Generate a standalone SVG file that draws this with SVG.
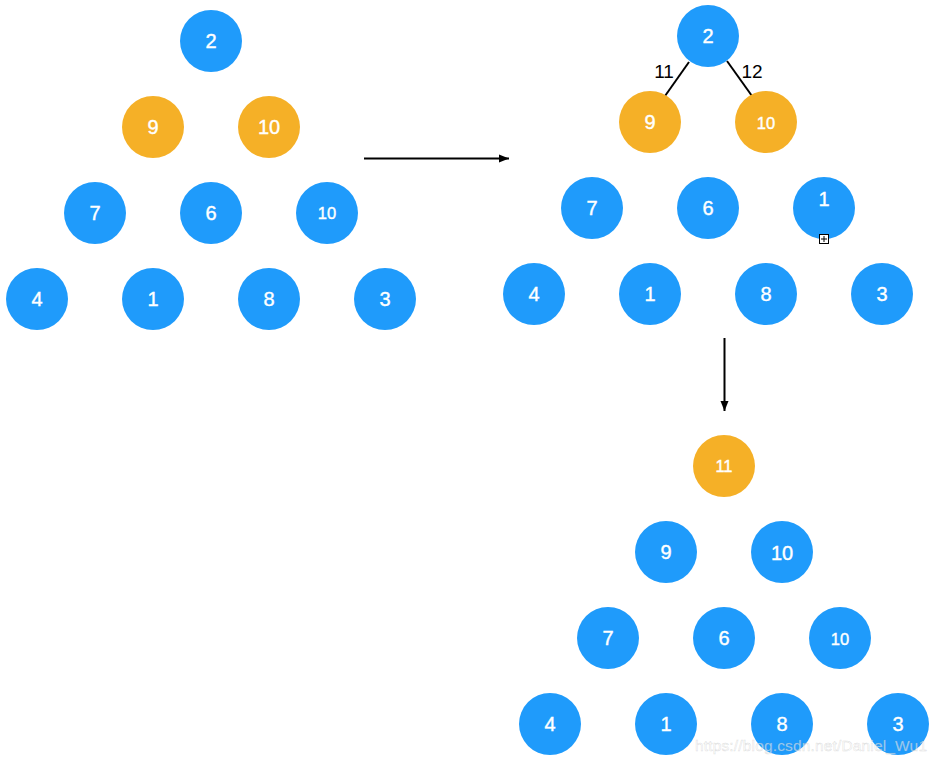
<svg xmlns="http://www.w3.org/2000/svg" width="935" height="763" viewBox="0 0 935 763">
<style>
.b{fill:#1f9bfb}
.o{fill:#f5b027}
.t{font-family:"Liberation Sans",Arial,sans-serif;font-size:20px;fill:#fff;stroke:#fff;stroke-width:0.4;text-anchor:middle;dominant-baseline:central}
.s{font-size:16.5px}
.ln{stroke:#000;stroke-width:2;fill:none}
.lb{font-family:"Liberation Sans",Arial,sans-serif;font-size:19px;fill:#000;text-anchor:middle}
</style>
<defs>
<marker id="ah" viewBox="0 0 10 10" refX="10" refY="5" markerWidth="10" markerHeight="10" markerUnits="userSpaceOnUse" orient="auto">
<path d="M0,1 L10,5 L0,9 Z" fill="#000"/>
</marker>
</defs>
<rect width="935" height="763" fill="#fff"/>
<g id="connectors">
<line class="ln" x1="364" y1="158.5" x2="509" y2="158.5" marker-end="url(#ah)"/>
<line class="ln" x1="724.5" y1="338" x2="724.5" y2="411" marker-end="url(#ah)"/>
<line class="ln" x1="689" y1="62" x2="665" y2="96"/>
<line class="ln" x1="727" y1="61" x2="752" y2="96"/>
<text class="lb" x="664" y="78">11</text>
<text class="lb" x="752" y="78">12</text>
</g>
<g id="L2"><circle class="b" cx="211" cy="41" r="31"/><text class="t" x="211" y="41">2</text></g>
<g id="L9"><circle class="o" cx="153" cy="127" r="31"/><text class="t" x="153" y="127">9</text></g>
<g id="L10a"><circle class="o" cx="269" cy="127" r="31"/><text class="t" x="269" y="127">10</text></g>
<g id="L7"><circle class="b" cx="95" cy="213" r="31"/><text class="t" x="95" y="213">7</text></g>
<g id="L6"><circle class="b" cx="211" cy="213" r="31"/><text class="t" x="211" y="213">6</text></g>
<g id="L10b"><circle class="b" cx="327" cy="213" r="31"/><text class="t s" x="327" y="213">10</text></g>
<g id="L4"><circle class="b" cx="37" cy="299" r="31"/><text class="t" x="37" y="299">4</text></g>
<g id="L1"><circle class="b" cx="153" cy="299" r="31"/><text class="t" x="153" y="299">1</text></g>
<g id="L8"><circle class="b" cx="269" cy="299" r="31"/><text class="t" x="269" y="299">8</text></g>
<g id="L3"><circle class="b" cx="385" cy="299" r="31"/><text class="t" x="385" y="299">3</text></g>

<g id="R2"><circle class="b" cx="708" cy="36" r="31"/><text class="t" x="708" y="36">2</text></g>
<g id="R9"><circle class="o" cx="650" cy="122" r="31"/><text class="t" x="650" y="122">9</text></g>
<g id="R10a"><circle class="o" cx="766" cy="122" r="31"/><text class="t s" x="766" y="123">10</text></g>
<g id="R7"><circle class="b" cx="592" cy="208" r="31"/><text class="t" x="592" y="208">7</text></g>
<g id="R6"><circle class="b" cx="708" cy="208" r="31"/><text class="t" x="708" y="208">6</text></g>
<g id="R1a"><circle class="b" cx="824" cy="208" r="31"/><text class="t" x="824" y="199">1</text>
<rect x="819.5" y="234.5" width="9" height="9" fill="#fff" stroke="#000" stroke-width="1"/><path d="M824,236 V242 M821,239 H827" stroke="#000" stroke-width="1"/></g>
<g id="R4"><circle class="b" cx="534" cy="294" r="31"/><text class="t" x="534" y="294">4</text></g>
<g id="R1b"><circle class="b" cx="650" cy="294" r="31"/><text class="t" x="650" y="294">1</text></g>
<g id="R8"><circle class="b" cx="766" cy="294" r="31"/><text class="t" x="766" y="294">8</text></g>
<g id="R3"><circle class="b" cx="882" cy="294" r="31"/><text class="t" x="882" y="294">3</text></g>

<g id="B11"><circle class="o" cx="724" cy="466" r="31"/><text class="t s" x="724" y="466">11</text></g>
<g id="B9"><circle class="b" cx="666" cy="552" r="31"/><text class="t" x="666" y="552">9</text></g>
<g id="B10a"><circle class="b" cx="782" cy="552" r="31"/><text class="t" x="782" y="553">10</text></g>
<g id="B7"><circle class="b" cx="608" cy="638" r="31"/><text class="t" x="608" y="638">7</text></g>
<g id="B6"><circle class="b" cx="724" cy="638" r="31"/><text class="t" x="724" y="638">6</text></g>
<g id="B10b"><circle class="b" cx="840" cy="638" r="31"/><text class="t s" x="840" y="639">10</text></g>
<g id="B4"><circle class="b" cx="550" cy="724" r="31"/><text class="t" x="550" y="724">4</text></g>
<g id="B1"><circle class="b" cx="666" cy="724" r="31"/><text class="t" x="666" y="724">1</text></g>
<g id="B8"><circle class="b" cx="782" cy="724" r="31"/><text class="t" x="782" y="724">8</text></g>
<g id="B3"><circle class="b" cx="898" cy="724" r="31"/><text class="t" x="898" y="724">3</text></g>

<text x="695" y="751" font-family="'Liberation Sans',Arial,sans-serif" font-size="15.5" fill="#ffffff" fill-opacity="0.55" stroke="#999" stroke-opacity="0.35" stroke-width="0.5" textLength="232">https://blog.csdn.net/Daniel_Wu1</text>
</svg>
